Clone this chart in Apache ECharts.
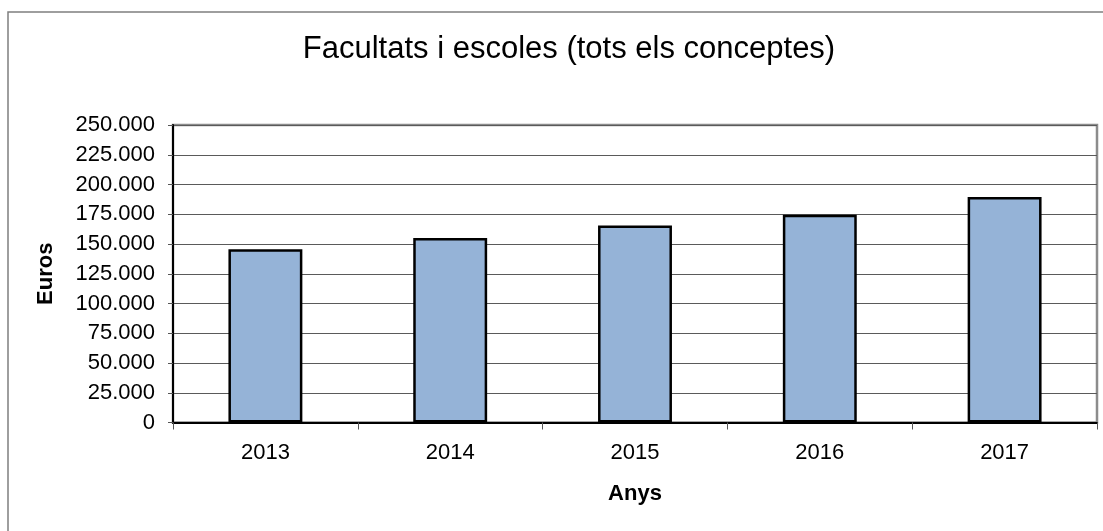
<!DOCTYPE html>
<html>
<head>
<meta charset="utf-8">
<script src="https://cdn.jsdelivr.net/npm/echarts@6/dist/echarts.min.js"></script>
<style>
html,body{margin:0;padding:0;background:#fff;}
#chart{width:1103px;height:531px;}
</style>
</head>
<body>
<div id="chart"></div>
<script>
const titleText = 'Facultats i escoles (tots els conceptes)';
const categories = ['2013', '2014', '2015', '2016', '2017'];
const values = [145500, 155000, 165500, 174500, 189500];
const yAxisName = 'Euros';
const xAxisName = 'Anys';

function fmt(v) {
  return String(v).replace(/\B(?=(\d{3})+(?!\d))/g, '.');
}

const chart = echarts.init(document.getElementById('chart'));
const FONT = '"Liberation Sans", Arial, sans-serif';
chart.setOption({
  animation: false,
  backgroundColor: '#ffffff',
  title: {
    text: titleText,
    left: 564,
    textAlign: 'center',
    top: 29,
    textStyle: { fontFamily: FONT, fontSize: 31, fontWeight: 'normal', color: '#000' }
  },
  graphic: [
    {
      type: 'rect',
      shape: { x: 8, y: 12, width: 1110, height: 540 },
      style: { fill: 'none', stroke: '#7f7f7f', lineWidth: 1.5 },
      silent: true
    },
    {
      type: 'rect',
      shape: { x: 173, y: 125, width: 924, height: 297.5 },
      style: { fill: 'none', stroke: '#8c8c8c', lineWidth: 2.5 },
      silent: true,
      z: 0
    }
  ],
  grid: { left: 173, right: 6, top: 125, bottom: 108.5, containLabel: false },
  xAxis: {
    type: 'category',
    data: categories,
    name: xAxisName,
    nameLocation: 'middle',
    nameGap: 60,
    nameTextStyle: { fontFamily: FONT, fontSize: 22, fontWeight: 'bold', color: '#000' },
    axisLine: { show: true, lineStyle: { color: '#000', width: 2 } },
    axisTick: { show: true, alignWithLabel: false, length: 7, lineStyle: { color: '#555', width: 1 } },
    axisLabel: { fontFamily: FONT, fontSize: 22, color: '#000', margin: 19 },
    splitLine: { show: false }
  },
  yAxis: {
    type: 'value',
    min: 0,
    max: 250000,
    interval: 25000,
    name: yAxisName,
    nameLocation: 'middle',
    nameGap: 116,
    nameRotate: 90,
    nameTextStyle: { fontFamily: FONT, fontSize: 22, fontWeight: 'bold', color: '#000' },
    axisLine: { show: true, lineStyle: { color: '#000', width: 2 } },
    axisTick: { show: true, length: 5, lineStyle: { color: '#555', width: 1 } },
    axisLabel: { fontFamily: FONT, fontSize: 22, color: '#000', margin: 18, formatter: fmt },
    splitLine: { show: true, lineStyle: { color: '#5a5a5a', width: 1 } }
  },
  series: [{
    type: 'bar',
    data: values,
    barWidth: '40%',
    itemStyle: { color: '#95b3d7', borderColor: '#000', borderWidth: 2.5 },
    z: 3
  }]
});
</script>
</body>
</html>
